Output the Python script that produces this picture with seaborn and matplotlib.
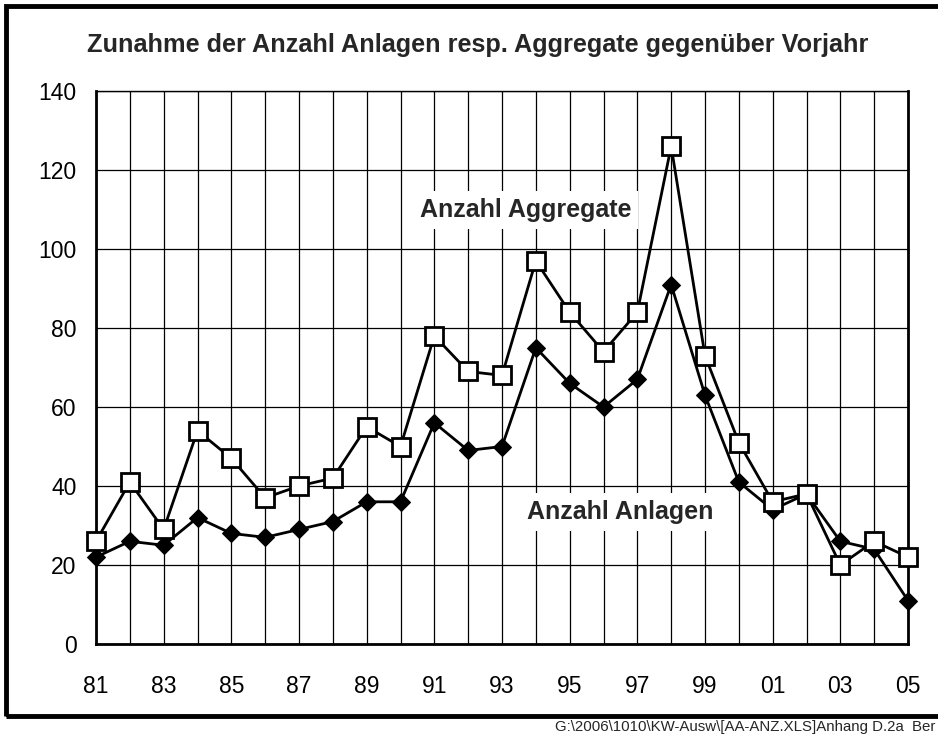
import matplotlib
matplotlib.use("Agg")
import matplotlib.pyplot as plt
import seaborn as sns
import pandas as pd
from matplotlib.patches import Rectangle

# data
years = list(range(1981, 2006))
aggregate = [26, 41, 29, 54, 47, 37, 40, 42, 55, 50, 78, 69, 68, 97, 84, 74, 84, 126, 73, 51, 36, 38, 20, 26, 22]
anlagen = [22, 26, 25, 32, 28, 27, 29, 31, 36, 36, 56, 49, 50, 75, 66, 60, 67, 91, 63, 41, 34, 38, 26, 24, 11]
tick_years = years[::2]
tick_labels = [f"{y % 100:02d}" for y in tick_years]
y_ticks = [0, 20, 40, 60, 80, 100, 120, 140]

title = "Zunahme der Anzahl Anlagen resp. Aggregate gegenüber Vorjahr"
label_agg = "Anzahl Aggregate"
label_anl = "Anzahl Anlagen"
footer = "G:\\2006\\1010\\KW-Ausw\\[AA-ANZ.XLS]Anhang D.2a  Ber"

df = pd.DataFrame({"Jahr": years, "Aggregate": aggregate, "Anlagen": anlagen})

sns.set_style("white")
plt.rcParams["font.family"] = ["Liberation Sans", "DejaVu Sans"]

fig = plt.figure(figsize=(9.38, 7.34), dpi=100)
ax = fig.add_axes([96 / 938, 1 - 644 / 734, 812 / 938, 553 / 734])

sns.lineplot(data=df, x="Jahr", y="Anlagen", ax=ax, color="black", lw=2,
             marker="D", markersize=9, markerfacecolor="black",
             markeredgecolor="black", zorder=4, clip_on=False)
sns.lineplot(data=df, x="Jahr", y="Aggregate", ax=ax, color="black", lw=2,
             marker="s", markersize=12.5, markerfacecolor="white",
             markeredgecolor="black", markeredgewidth=2, zorder=5, clip_on=False)

ax.set_xlim(years[0], years[-1])
ax.set_ylim(0, 140)
ax.set_xticks(years, minor=True)
ax.set_xticks(tick_years)
ax.set_xticklabels(tick_labels)
ax.set_yticks(y_ticks)
ax.tick_params(axis="both", which="both", length=0, labelsize=16.5, colors="black")
ax.tick_params(axis="x", pad=22)
ax.tick_params(axis="y", pad=14)
ax.grid(True, which="both", axis="x", color="black", lw=0.9)
ax.grid(True, which="major", axis="y", color="black", lw=0.9)
ax.set_xlabel("")
ax.set_ylabel("")
for side, sp in ax.spines.items():
    sp.set_visible(True)
    sp.set_color("black")
    sp.set_linewidth(1 if side == "top" else 2)

box = dict(facecolor="white", edgecolor="none", pad=5)
ax.text(1993.7, 110, label_agg, ha="center", va="center", fontsize=18,
        fontweight="bold", bbox=box, zorder=3)
ax.text(1996.5, 33.4, label_anl, ha="center", va="center", fontsize=18,
        fontweight="bold", bbox=box, zorder=3)

fig.text(478 / 938, 1 - 45 / 734, title, ha="center", va="center",
         fontsize=18.2, fontweight="bold")
fig.text(555 / 938, 1 - 727 / 734, footer, ha="left", va="center", fontsize=10.8)

fig.patches.append(Rectangle((6 / 938, 1 - 716 / 734), 1.2, 710 / 734,
                             transform=fig.transFigure, fill=False,
                             edgecolor="black", lw=3.5, clip_on=False))

fig.savefig("out.png", dpi=100)
